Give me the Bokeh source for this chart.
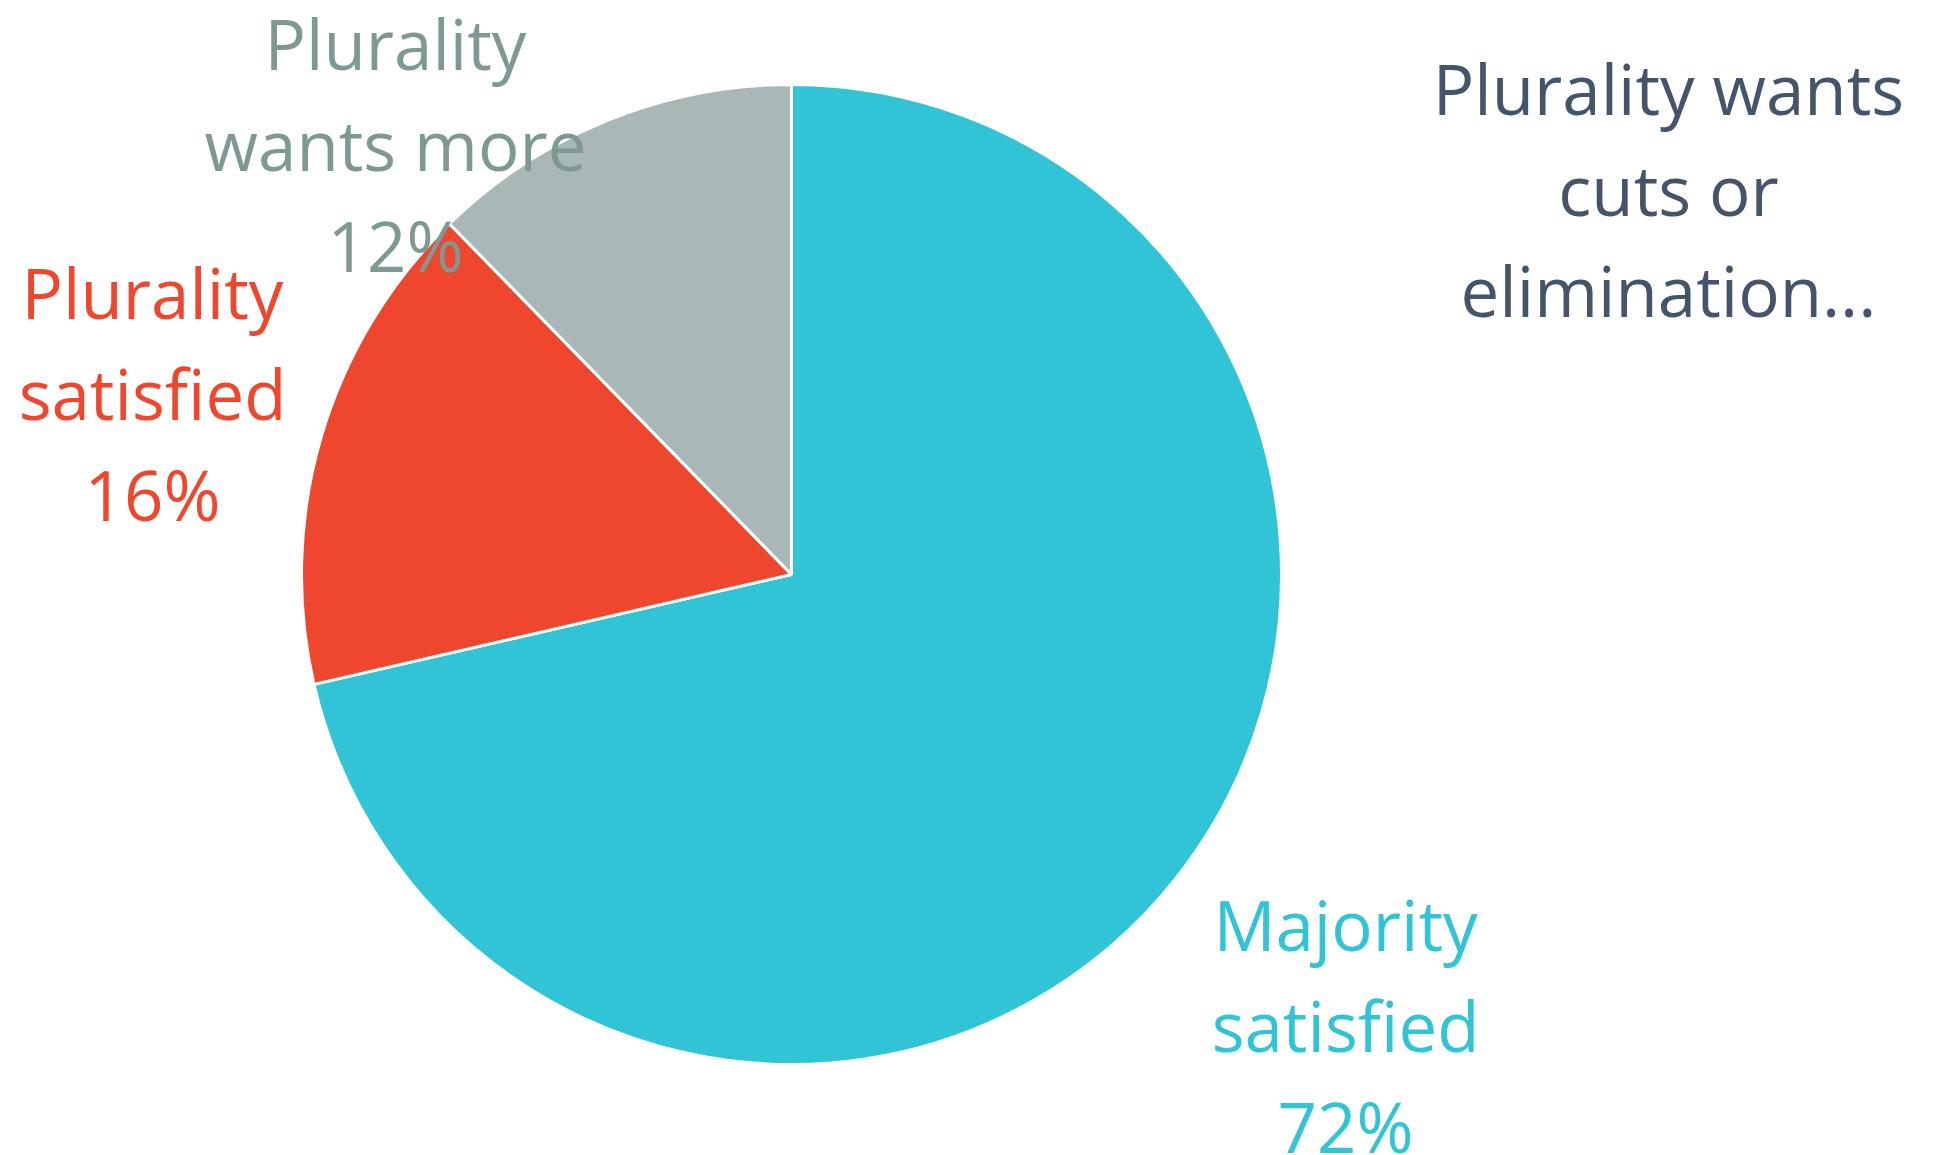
import math
from bokeh.plotting import figure
from bokeh.models import Range1d
from bokeh.core.properties import value
from bokeh.embed import file_html
from bokeh.resources import INLINE

categories = ["Majority satisfied", "Plurality satisfied", "Plurality wants more",
              "Plurality wants cuts or elimination..."]
shares = [71.4, 16.3, 12.3, 0.0]
label_lines = [
    ["Majority", "satisfied", "72%"],
    ["Plurality", "satisfied", "16%"],
    ["Plurality", "wants more", "12%"],
    ["Plurality wants", "cuts or", "elimination..."],
]

# ---- styles / layout ----
slice_colors = ["#31C3D6", "#EF472D", "#A9B8B7", "#44546A"]
text_colors = ["#31C3D6", "#EF472D", "#7E9894", "#44546A"]
W, H = 1939, 1155
R_PX = 490.0
CX_PX, CY_PX = 791.0, 574.0  # pie centre, pixels from top-left
# label anchors: (centre x, first-line middle y) in pixels from top-left
label_anchor = [(1345, 923), (152, 291), (395, 42), (1668, 87)]
line_step = 101
font_size = "69px"

def px2d(x, y):
    return (x - CX_PX) / R_PX, (CY_PX - y) / R_PX

p = figure(width=W, height=H, output_backend="svg", toolbar_location=None,
           x_range=Range1d(-CX_PX / R_PX, (W - CX_PX) / R_PX),
           y_range=Range1d(-(H - CY_PX) / R_PX, CY_PX / R_PX),
           min_border=0)
p.axis.visible = False
p.grid.visible = False
p.outline_line_color = None
p.background_fill_color = "white"
p.border_fill_color = "white"

total = float(sum(shares))
start = math.pi / 2
for i, v in enumerate(shares):
    if v <= 0:
        continue
    sweep = 2 * math.pi * v / total
    end = start - sweep
    p.wedge(x=0, y=0, radius=1, start_angle=end, end_angle=start,
            direction="anticlock", fill_color=slice_colors[i],
            line_color="white", line_width=3)
    start = end

for i, lines in enumerate(label_lines):
    ax, ay = label_anchor[i]
    for k, line in enumerate(lines):
        tx, ty = px2d(ax, ay + k * line_step)
        p.text(x=[tx], y=[ty], text=[line], text_align="center",
               text_baseline="middle", text_font=value("Open Sans"),
               text_font_size=font_size, text_color=text_colors[i])

open("out.html", "w").write(file_html(p, INLINE))
